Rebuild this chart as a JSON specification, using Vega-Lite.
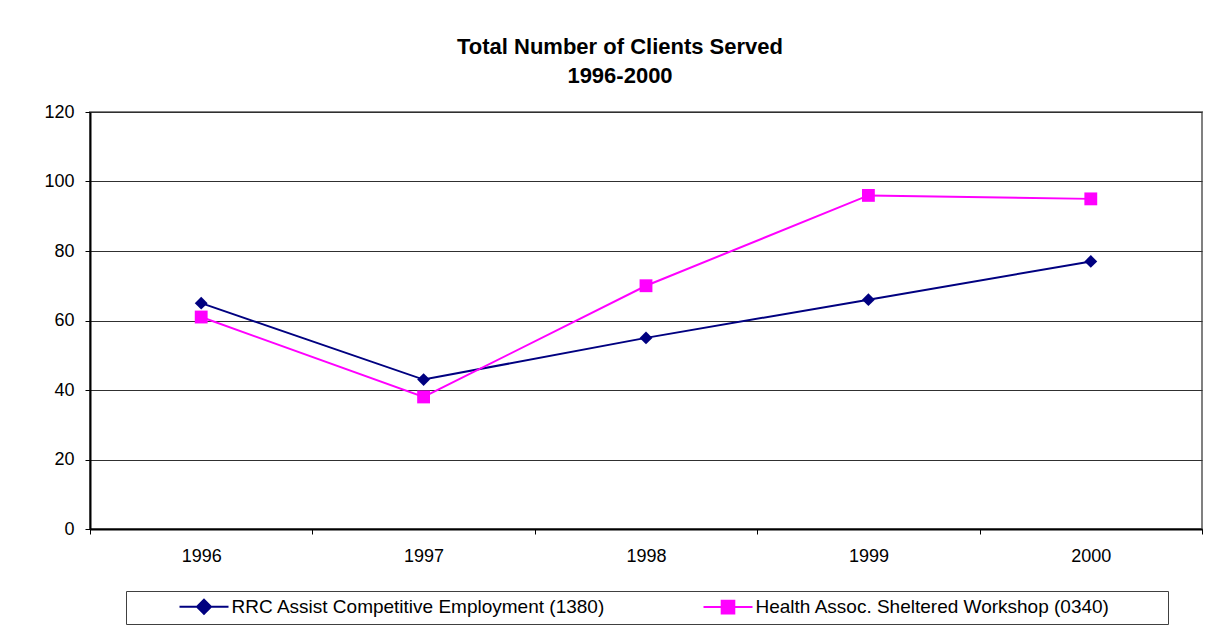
{
  "$schema": "https://vega.github.io/schema/vega-lite/v6.json",
  "width": 1112,
  "height": 417,
  "autosize": {"type": "none"},
  "padding": {"left": 90, "top": 112, "right": 24, "bottom": 112},
  "background": "#ffffff",
  "config": {
    "font": "Liberation Sans",
    "view": {"stroke": "#808080", "strokeWidth": 2},
    "axis": {"labelFont": "Liberation Sans", "labelColor": "#000000"}
  },
  "title": {
    "text": ["Total Number of Clients Served", "1996-2000"],
    "font": "Liberation Sans",
    "fontSize": 22,
    "fontWeight": "bold",
    "color": "#000000",
    "lineHeight": 29,
    "anchor": "middle",
    "dx": -26,
    "offset": 15
  },
  "data": {
    "values": [
      {"series": "RRC Assist Competitive Employment (1380)", "year": "1996", "clients": 65},
      {"series": "RRC Assist Competitive Employment (1380)", "year": "1997", "clients": 43},
      {"series": "RRC Assist Competitive Employment (1380)", "year": "1998", "clients": 55},
      {"series": "RRC Assist Competitive Employment (1380)", "year": "1999", "clients": 66},
      {"series": "RRC Assist Competitive Employment (1380)", "year": "2000", "clients": 77},
      {"series": "Health Assoc. Sheltered Workshop (0340)", "year": "1996", "clients": 61},
      {"series": "Health Assoc. Sheltered Workshop (0340)", "year": "1997", "clients": 38},
      {"series": "Health Assoc. Sheltered Workshop (0340)", "year": "1998", "clients": 70},
      {"series": "Health Assoc. Sheltered Workshop (0340)", "year": "1999", "clients": 96},
      {"series": "Health Assoc. Sheltered Workshop (0340)", "year": "2000", "clients": 95}
    ]
  },
  "encoding": {
    "x": {
      "field": "year",
      "type": "ordinal",
      "scale": {"type": "band", "paddingInner": 0, "paddingOuter": 0},
      "axis": {
        "title": null,
        "labelAngle": 0,
        "labelFontSize": 18,
        "labelPadding": 13,
        "tickBand": "extent",
        "tickSize": 5,
        "tickColor": "#000000",
        "domainColor": "#000000",
        "domainWidth": 2,
        "grid": false
      }
    },
    "y": {
      "field": "clients",
      "type": "quantitative",
      "scale": {"domain": [0, 120], "nice": false},
      "axis": {
        "title": null,
        "values": [0, 20, 40, 60, 80, 100, 120],
        "labelFontSize": 18,
        "labelPadding": 11,
        "tickSize": 5,
        "tickColor": "#000000",
        "domainColor": "#000000",
        "domainWidth": 2,
        "grid": true,
        "gridColor": "#303030"
      }
    },
    "color": {
      "field": "series",
      "type": "nominal",
      "scale": {
        "domain": ["RRC Assist Competitive Employment (1380)", "Health Assoc. Sheltered Workshop (0340)"],
        "range": ["#000080", "#FF00FF"]
      },
      "legend": null
    }
  },
  "layer": [
    {
      "mark": {"type": "line", "strokeWidth": 2},
      "encoding": {}
    },
    {
      "mark": {"type": "point", "filled": true, "opacity": 1, "size": 165},
      "encoding": {
        "shape": {
          "field": "series",
          "type": "nominal",
          "scale": {
            "domain": ["RRC Assist Competitive Employment (1380)", "Health Assoc. Sheltered Workshop (0340)"],
            "range": ["diamond", "square"]
          },
          "legend": null
        }
      }
    },
    {
      "mark": {"type": "point", "filled": true, "size": 0},
      "encoding": {
        "shape": {
          "field": "series",
          "type": "nominal",
          "scale": {
            "domain": ["RRC Assist Competitive Employment (1380)", "Health Assoc. Sheltered Workshop (0340)"],
            "range": ["M-3.5,0L3.5,0M0,-1L1,0L0,1L-1,0Z", "M-3.5,0L3.5,0M-0.9,-0.9L0.9,-0.9L0.9,0.9L-0.9,0.9Z"]
          },
          "legend": {
            "title": " ",
            "titleOrient": "right",
            "titlePadding": 52,
            "titleFontSize": 19,
            "orient": "none",
            "legendX": 36,
            "legendY": 479,
            "direction": "horizontal",
            "padding": 6,
            "strokeColor": "#404040",
            "fillColor": "#ffffff",
            "symbolSize": 196,
            "symbolStrokeWidth": 2,
            "symbolOpacity": 1,
            "symbolFillColor": {"expr": "datum.value === 'RRC Assist Competitive Employment (1380)' ? '#000080' : '#FF00FF'"},
            "symbolStrokeColor": {"expr": "datum.value === 'RRC Assist Competitive Employment (1380)' ? '#000080' : '#FF00FF'"},
            "symbolOffset": 62.5,
            "labelOffset": 18,
            "labelFont": "Liberation Sans",
            "labelFontSize": 19,
            "labelColor": "#000000",
            "labelLimit": 0,
            "columnPadding": 50
          }
        }
      }
    }
  ],
  "resolve": {"scale": {"shape": "independent"}, "legend": {"shape": "independent"}}
}
